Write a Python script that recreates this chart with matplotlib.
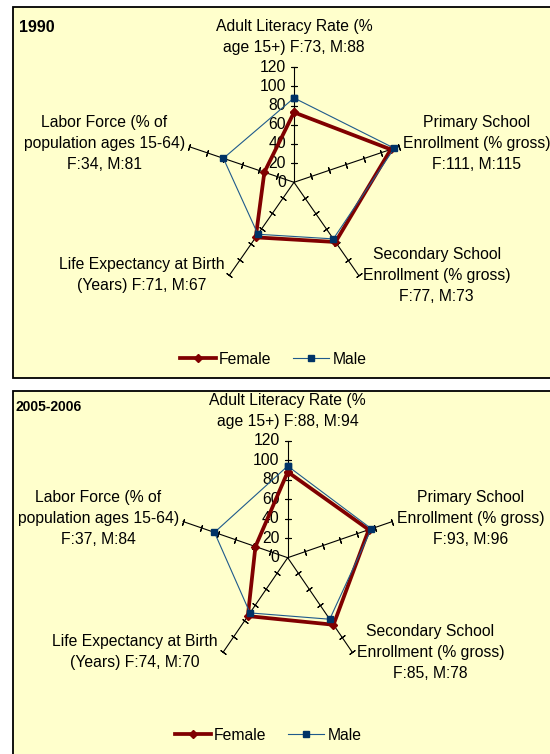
import numpy as np
import matplotlib.pyplot as plt
from matplotlib.patches import Rectangle

plt.rcParams['font.family'] = ['Liberation Sans', 'DejaVu Sans']

# axis labels, the values get filled in per panel
label_templates = [
    'Adult Literacy Rate (%\nage 15+) F:{f}, M:{m}',
    'Primary School\nEnrollment (% gross)\nF:{f}, M:{m}',
    'Secondary School\nEnrollment (% gross)\nF:{f}, M:{m}',
    'Life Expectancy at Birth\n(Years) F:{f}, M:{m}',
    'Labor Force (% of\npopulation ages 15-64)\nF:{f}, M:{m}',
]

female_1990 = [73, 111, 77, 71, 34]
male_1990 = [88, 115, 73, 67, 81]
female_2005 = [88, 93, 85, 74, 37]
male_2005 = [94, 96, 78, 70, 84]

r_ticks = [0, 20, 40, 60, 80, 100, 120]

W, H = 550, 754
BG = '#FFFFCC'
FEMALE_C = '#800000'
MALE_C = '#1F5A8C'
MALE_M = '#003366'
FS = 11.3

# label offsets (pixels) from the end of each spoke
label_offsets = [(0, 30), (78, 3), (78, 0), (-88, 0), (-85, 3)]

fig = plt.figure(figsize=(W / 100, H / 100), dpi=100)


def fig_xy(x, y):
    return x / W, 1 - y / H


def add_panel(x0, y0, x1, y1):
    rect = Rectangle(fig_xy(x0, y1), (x1 - x0) / W, (y1 - y0) / H,
                     transform=fig.transFigure, facecolor=BG,
                     edgecolor='black', lw=1.3, zorder=-10)
    fig.patches.append(rect)


def draw_radar(cx, cy, rx, ry, female, male, title, title_xy, title_size, legend_xy):
    ax = fig.add_axes([(cx - rx) / W, 1 - (cy + ry) / H, 2 * rx / W, 2 * ry / H],
                      projection='polar')
    ax.set_zorder(5)
    ax.set_aspect('auto')
    ax.set_theta_zero_location('N')
    ax.set_theta_direction(-1)
    ax.set_ylim(0, 120)
    ax.grid(False)
    ax.spines['polar'].set_visible(False)
    ax.set_xticks([])
    ax.set_yticks([])
    ax.patch.set_alpha(0)

    n = len(female)
    theta = np.arange(n) * 2 * np.pi / n

    # spokes with crossing tick marks
    for i, t in enumerate(theta):
        ax.plot([t, t], [0, 120], color='black', lw=0.8, zorder=1, clip_on=False)
        ang = 90 - np.degrees(t)
        ax.plot([t] * (len(r_ticks) - 1), r_ticks[1:], linestyle='none',
                marker=(2, 2, ang), ms=5, mec='black', mew=0.8,
                zorder=1, clip_on=False)

    # value labels on the vertical spoke
    for r in r_ticks:
        ax.annotate(str(r), xy=(0, r), xytext=(-8, 0), textcoords='offset pixels',
                    ha='right', va='center', fontsize=FS, annotation_clip=False)

    t_closed = np.append(theta, theta[0])
    lf, = ax.plot(t_closed, female + female[:1], color=FEMALE_C, lw=2.7,
                  marker='D', ms=4, mfc=FEMALE_C, mec=FEMALE_C, zorder=3,
                  clip_on=False, label='Female')
    lm, = ax.plot(t_closed, male + male[:1], color=MALE_C, lw=0.8,
                  marker='s', ms=5, mfc=MALE_M, mec=MALE_M, zorder=4,
                  clip_on=False, label='Male')

    for i, t in enumerate(theta):
        txt = label_templates[i].format(f=female[i], m=male[i])
        ax.annotate(txt, xy=(t, 120), xytext=label_offsets[i],
                    textcoords='offset pixels', ha='center', va='center',
                    ma='center', fontsize=FS, linespacing=1.5,
                    annotation_clip=False)

    fig.text(*fig_xy(*title_xy), title, fontsize=title_size, fontweight='bold',
             ha='left', va='center')

    fig.legend(handles=[lf, lm], loc='center', bbox_to_anchor=fig_xy(*legend_xy),
               ncol=2, frameon=False, fontsize=FS, handlelength=2.3,
               handletextpad=0.2, columnspacing=1.4)


add_panel(13, 7, 600, 378)
add_panel(13, 391, 600, 800)

draw_radar(294, 182.3, 110, 115, female_1990, male_1990,
           '1990', (19, 28), 11.5, (273, 359))
draw_radar(287.7, 557.7, 110, 117, female_2005, male_2005,
           '2005-2006', (15, 407), 10, (268, 735))

fig.savefig('out.png', dpi=100, facecolor='white')
